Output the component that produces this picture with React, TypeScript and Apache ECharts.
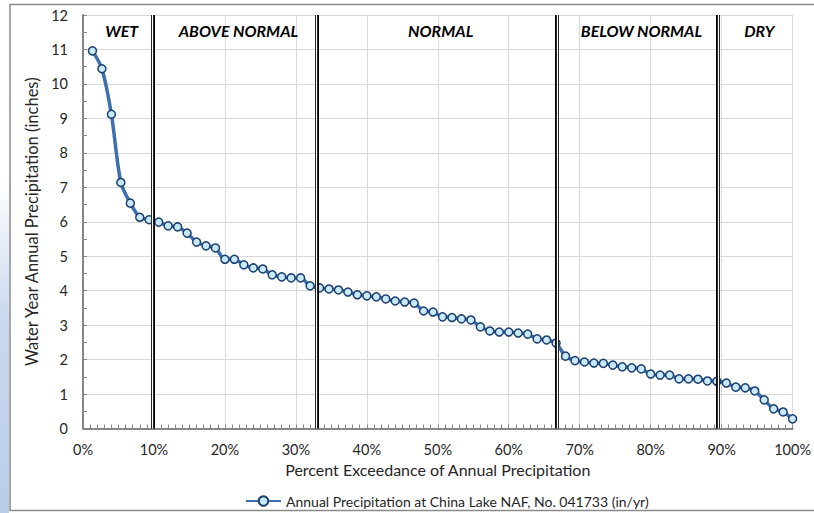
import React, { useEffect, useRef } from "react";
import * as echarts from "echarts";

// Annual precipitation values (inches), ranked from wettest to driest
const precipValues = [
  10.96, 10.44, 9.12, 7.14, 6.54, 6.13, 6.06, 5.99, 5.88, 5.85,
  5.67, 5.41, 5.3, 5.24, 4.91, 4.91, 4.75, 4.66, 4.63, 4.46,
  4.4, 4.37, 4.37, 4.14, 4.08, 4.05, 4.02, 3.96, 3.88, 3.85,
  3.82, 3.76, 3.7, 3.67, 3.64, 3.41, 3.38, 3.24, 3.22, 3.18,
  3.15, 2.95, 2.83, 2.8, 2.8, 2.77, 2.74, 2.6, 2.57, 2.48,
  2.1, 1.97, 1.93, 1.9, 1.89, 1.84, 1.79, 1.76, 1.73, 1.58,
  1.55, 1.55, 1.44, 1.44, 1.43, 1.38, 1.37, 1.32, 1.2, 1.18,
  1.09, 0.83, 0.57, 0.48, 0.28,
];

const bandNames = ["WET", "ABOVE NORMAL", "NORMAL", "BELOW NORMAL", "DRY"];
const bandEdges = [0, 9.8, 32.9, 66.8, 89.5, 100];
const separators = [9.8, 32.9, 66.8, 89.5];
const seriesName = "Annual Precipitation at China Lake NAF, No. 041733 (in/yr)";
const xAxisName = "Percent Exceedance of Annual Precipitation";
const yAxisName = "Water Year Annual Precipitation (inches)";

const FONT = "Lato, 'Liberation Sans', sans-serif";

export default function App() {
  const ref = useRef<HTMLDivElement>(null);

  useEffect(() => {
    document.body.style.margin = "0";
    if (!ref.current) return;
    const chart = echarts.init(ref.current, undefined, { renderer: "svg" });
    const n = precipValues.length;
    // percent exceedance = rank / count
    const points = precipValues.map((v, i) => [((i + 1) / n) * 100, v]);

    const markAreaData = bandNames.map((name, i) => [
      { xAxis: bandEdges[i], name },
      { xAxis: bandEdges[i + 1] },
    ]);

    const option: any = {
      animation: false,
      backgroundColor: "#ffffff",
      textStyle: { fontFamily: FONT },
      graphic: [
        {
          type: "rect",
          shape: { x: 0, y: 180, width: 9, height: 333 },
          style: {
            fill: new echarts.graphic.LinearGradient(0, 0, 0, 1, [
              { offset: 0, color: "#ffffff" },
              { offset: 0.4, color: "#cbd9ee" },
              { offset: 1, color: "#b9cce8" },
            ]),
          },
          silent: true,
        },
        {
          type: "rect",
          shape: { x: 10, y: 4.5, width: 900, height: 506 },
          style: { fill: "none", stroke: "#8a8a8a", lineWidth: 1.5 },
          silent: true,
        },
      ],
      grid: { left: 83, right: 17, top: 15, bottom: 84.5, containLabel: false },
      legend: {
        data: [seriesName],
        left: 240,
        top: 489,
        itemWidth: 35,
        itemHeight: 12,
        textStyle: { fontFamily: FONT, fontSize: 14, color: "#262626" },
      },
      xAxis: {
        type: "value",
        min: 0,
        max: 100,
        interval: 10,
        name: xAxisName,
        nameLocation: "middle",
        nameGap: 33,
        nameTextStyle: { fontFamily: FONT, fontSize: 16, color: "#262626" },
        axisLine: { show: true, lineStyle: { color: "#868686", width: 2 } },
        axisTick: { show: true, inside: true, length: 4, lineStyle: { color: "#868686" } },
        minorTick: { show: true, splitNumber: 10, length: 4, lineStyle: { color: "#868686" } },
        axisLabel: {
          formatter: (v: number) => v + "%",
          fontFamily: FONT,
          fontSize: 14.5,
          color: "#262626",
          margin: 13,
        },
        splitLine: { show: true, lineStyle: { color: "#d9d9d9", width: 1 } },
      },
      yAxis: {
        type: "value",
        min: 0,
        max: 12,
        interval: 1,
        name: yAxisName,
        nameLocation: "middle",
        nameGap: 38,
        nameRotate: 90,
        nameTextStyle: { fontFamily: FONT, fontSize: 16.5, color: "#262626" },
        axisLine: { show: true, lineStyle: { color: "#868686", width: 2 } },
        axisTick: { show: true, inside: true, length: 4, lineStyle: { color: "#868686" } },
        minorTick: { show: true, splitNumber: 2, length: 4, lineStyle: { color: "#868686" } },
        axisLabel: { fontFamily: FONT, fontSize: 14.5, color: "#262626", margin: 15 },
        splitLine: { show: true, lineStyle: { color: "#d9d9d9", width: 1 } },
      },
      series: [
        {
          type: "line",
          name: seriesName,
          data: points,
          smooth: 0.3,
          symbol: "circle",
          symbolSize: 8,
          showSymbol: true,
          lineStyle: { color: "#3d6eae", width: 3.5 },
          itemStyle: { color: "#c8eaf8", borderColor: "#1c3f6e", borderWidth: 1.5 },
          z: 3,
          markArea: {
            silent: true,
            itemStyle: { color: "rgba(0,0,0,0)" },
            label: {
              show: true,
              position: "insideTop",
              distance: 7,
              fontFamily: FONT,
              fontSize: 16,
              fontWeight: "bold",
              fontStyle: "italic",
              color: "#000000",
              offset: [4, 0],
            },
            data: markAreaData,
          },
        },
        {
          type: "line",
          name: "sepOuter",
          data: [],
          z: 5,
          markLine: {
            silent: true,
            symbol: ["none", "none"],
            label: { show: false },
            lineStyle: { color: "#000000", width: 4, type: "solid" },
            data: separators.map((s) => ({ xAxis: s })),
          },
        },
        {
          type: "line",
          name: "sepInner",
          data: [],
          z: 6,
          markLine: {
            silent: true,
            symbol: ["none", "none"],
            label: { show: false },
            lineStyle: { color: "#ffffff", width: 1.3, type: "solid" },
            data: separators.map((s) => ({ xAxis: s })),
          },
        },
      ],
    };

    chart.setOption(option);
    return () => chart.dispose();
  }, []);

  return <div ref={ref} style={{ width: 814, height: 513 }} />;
}
